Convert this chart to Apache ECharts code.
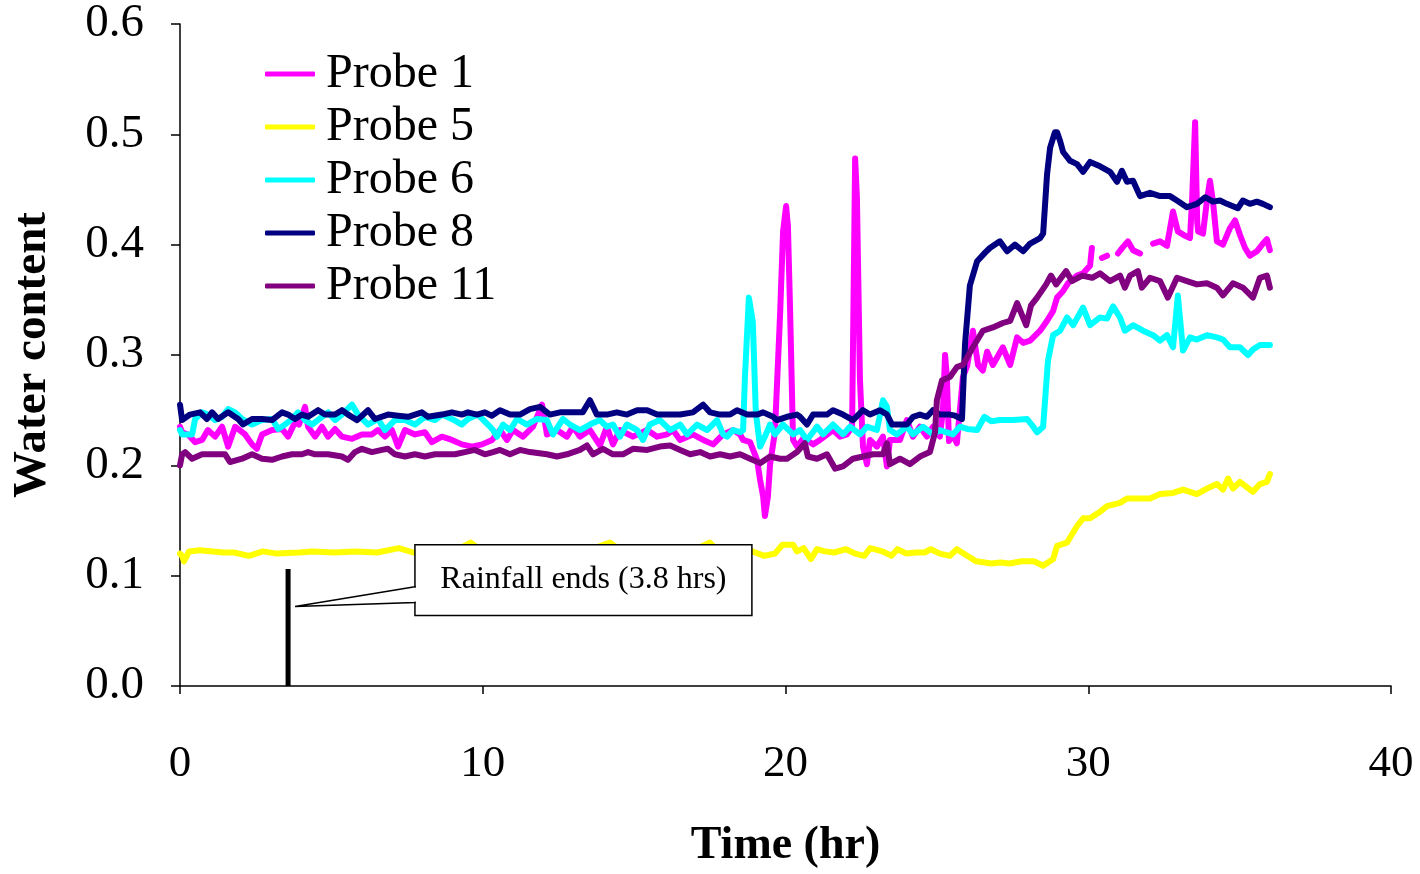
<!DOCTYPE html>
<html>
<head>
<meta charset="utf-8">
<script src="https://cdn.jsdelivr.net/npm/echarts@6/dist/echarts.min.js"></script>
<style>
html,body{margin:0;padding:0;background:#fff;overflow:hidden;width:1420px;height:874px;}
#chart{width:1420px;height:874px;}
</style>
</head>
<body>
<div id="chart"></div>
<script>
// ---------------- DATA ----------------
const xTicks = [0, 10, 20, 30, 40];
const yTicks = [0.0, 0.1, 0.2, 0.3, 0.4, 0.5, 0.6];
const seriesNames = ['Probe 1', 'Probe 5', 'Probe 6', 'Probe 8', 'Probe 11'];

const probe1T = [0,0.07,0.26,0.5,0.73,0.92,1.16,1.39,1.59,1.82,2.15,2.38,2.54,2.71,3.04,3.37,3.57,3.8,3.93,4.13,4.23,4.46,4.69,4.89,5.12,5.35,5.68,6.01,6.34,6.54,6.77,7.0,7.2,7.43,7.76,8.09,8.32,8.65,8.98,9.31,9.65,9.98,10.31,10.57,10.8,11.0,11.33,11.66,11.96,12.12,12.45,12.78,12.98,13.21,13.54,13.87,14.1,14.3,14.53,14.96,15.43,15.76,16.09,16.28,16.52,16.94,17.28,17.61,17.94,18.27,18.5,18.6,18.83,19.06,19.16,19.26,19.32,19.42,19.49,19.65,19.82,19.92,20.02,20.08,20.15,20.25,20.38,20.6,20.91,21.14,21.57,21.8,22.03,22.2,22.3,22.36,22.46,22.56,22.69,22.79,23.02,23.22,23.35,23.45,23.78,24.01,24.21,24.44,24.67,24.87,25.1,25.2,25.27,25.33,25.4,25.53,25.66,25.76,25.86,26.0,26.19,26.36,26.52,26.66,26.85,27.18,27.42,27.65,27.85,28.08,28.41,28.64,28.84,28.97,29.17,29.33,29.63,29.83,30.06,30.12,30.3,30.45,30.62,30.8,30.98,31.15,31.31,31.48,31.71,31.9,32.14,32.37,32.6,32.8,32.96,33.2,33.36,33.43,33.53,33.6,33.63,33.79,33.92,34.02,34.12,34.25,34.45,34.68,34.85,35.01,35.18,35.34,35.57,35.77,35.9,36.0];
const probe1V = [0.235,0.23,0.228,0.221,0.223,0.232,0.226,0.235,0.217,0.235,0.228,0.219,0.215,0.228,0.232,0.233,0.226,0.239,0.237,0.253,0.235,0.226,0.235,0.226,0.233,0.226,0.224,0.228,0.228,0.232,0.226,0.232,0.217,0.232,0.228,0.23,0.221,0.226,0.223,0.219,0.217,0.219,0.223,0.232,0.223,0.232,0.226,0.235,0.255,0.228,0.232,0.226,0.235,0.226,0.232,0.218,0.235,0.219,0.232,0.226,0.232,0.226,0.228,0.232,0.223,0.228,0.223,0.219,0.228,0.232,0.228,0.223,0.221,0.205,0.187,0.172,0.154,0.172,0.201,0.23,0.336,0.412,0.435,0.417,0.343,0.223,0.217,0.225,0.219,0.223,0.232,0.226,0.228,0.235,0.478,0.442,0.277,0.217,0.201,0.223,0.217,0.226,0.199,0.223,0.223,0.241,0.226,0.235,0.226,0.235,0.226,0.25,0.3,0.28,0.222,0.228,0.22,0.25,0.28,0.29,0.322,0.291,0.286,0.303,0.291,0.307,0.291,0.316,0.311,0.313,0.322,0.331,0.34,0.352,0.358,0.365,0.372,0.374,0.381,0.397,'-',0.388,0.39,'-',0.392,0.398,0.403,0.395,0.392,'-',0.401,0.403,0.399,0.43,0.412,0.408,0.406,0.44,0.511,0.42,0.412,0.41,0.44,0.458,0.439,0.403,0.4,0.415,0.422,0.409,0.397,0.39,0.394,0.401,0.405,0.395];

const probe5T = [0,0.07,0.13,0.3,0.66,1.09,1.45,1.78,2.28,2.74,3.2,3.93,4.39,5.09,5.81,6.51,7.23,7.7,8.2,8.7,9.2,9.6,10.0,10.6,11.2,11.8,12.4,13.0,13.6,14.2,14.6,15.2,15.8,16.4,16.9,17.5,17.8,18.2,18.8,19.3,19.65,19.9,20.25,20.38,20.6,20.84,21.04,21.3,21.6,22.0,22.3,22.6,22.8,23.2,23.5,23.7,24.0,24.3,24.6,24.8,25.1,25.43,25.66,26.0,26.3,26.8,27.1,27.4,27.8,28.2,28.51,28.84,28.97,29.3,29.63,29.83,30.06,30.39,30.62,31.05,31.28,32.04,32.37,32.8,33.13,33.59,33.92,34.25,34.45,34.62,34.78,35.01,35.44,35.67,35.9,36.0];
const probe5V = [0.12,0.118,0.113,0.122,0.123,0.122,0.121,0.121,0.118,0.122,0.12,0.121,0.122,0.121,0.122,0.121,0.125,0.121,0.122,0.12,0.124,0.13,0.122,0.121,0.123,0.121,0.122,0.121,0.124,0.13,0.122,0.121,0.123,0.121,0.122,0.13,0.122,0.121,0.123,0.118,0.12,0.128,0.128,0.122,0.125,0.115,0.124,0.122,0.121,0.124,0.12,0.118,0.125,0.122,0.118,0.124,0.12,0.121,0.121,0.124,0.12,0.118,0.124,0.118,0.113,0.111,0.112,0.111,0.113,0.113,0.109,0.115,0.127,0.13,0.145,0.152,0.152,0.158,0.163,0.166,0.17,0.17,0.174,0.175,0.178,0.174,0.179,0.183,0.178,0.188,0.179,0.185,0.176,0.183,0.185,0.192];

const probe6T = [0,0.07,0.4,0.5,0.73,0.92,1.16,1.39,1.59,1.82,2.05,2.38,2.71,3.04,3.24,3.47,3.7,3.9,4.13,4.36,4.69,4.89,5.12,5.35,5.68,5.88,6.21,6.54,6.77,7.1,7.43,7.76,8.09,8.42,8.65,8.98,9.31,9.51,9.84,10.17,10.34,10.47,10.67,10.9,11.13,11.46,11.79,12.12,12.32,12.65,12.88,13.21,13.54,13.87,14.1,14.3,14.53,14.76,15.1,15.29,15.52,15.85,16.19,16.52,16.75,17.08,17.41,17.74,17.94,18.07,18.27,18.5,18.6,18.66,18.79,18.92,19.02,19.16,19.32,19.49,19.65,19.92,20.25,20.48,20.71,21.04,21.24,21.57,21.9,22.13,22.46,22.69,23.02,23.22,23.35,23.45,23.68,24.01,24.21,24.54,24.87,25.1,25.3,25.53,25.76,26.0,26.33,26.57,26.8,27.08,27.52,27.98,28.18,28.31,28.51,28.67,28.84,29.07,29.3,29.5,29.83,30.06,30.39,30.62,30.82,31.05,31.21,31.48,31.81,32.14,32.37,32.6,32.8,32.96,33.13,33.36,33.59,33.92,34.25,34.45,34.68,35.01,35.28,35.44,35.67,36.0];
const probe6V = [0.232,0.228,0.228,0.242,0.248,0.246,0.241,0.244,0.251,0.248,0.242,0.237,0.241,0.242,0.233,0.237,0.242,0.248,0.241,0.237,0.244,0.248,0.241,0.246,0.255,0.246,0.237,0.242,0.232,0.241,0.241,0.237,0.244,0.241,0.246,0.242,0.237,0.242,0.246,0.237,0.232,0.226,0.237,0.232,0.242,0.237,0.242,0.241,0.228,0.242,0.237,0.232,0.237,0.241,0.235,0.237,0.226,0.237,0.232,0.223,0.237,0.241,0.232,0.237,0.228,0.237,0.232,0.241,0.228,0.226,0.232,0.23,0.232,0.28,0.352,0.33,0.248,0.217,0.226,0.237,0.228,0.237,0.228,0.232,0.223,0.235,0.228,0.237,0.228,0.235,0.228,0.235,0.232,0.259,0.253,0.232,0.228,0.235,0.228,0.235,0.228,0.232,0.23,0.228,0.235,0.233,0.232,0.244,0.24,0.241,0.241,0.242,0.235,0.23,0.235,0.295,0.318,0.322,0.334,0.327,0.343,0.327,0.334,0.333,0.344,0.334,0.322,0.327,0.322,0.318,0.313,0.318,0.307,0.354,0.304,0.316,0.314,0.318,0.316,0.314,0.307,0.307,0.3,0.305,0.309,0.309];

const probe8T = [0,0.07,0.33,0.66,0.89,1.06,1.26,1.59,1.92,2.08,2.38,2.71,3.04,3.37,3.57,3.8,4.03,4.23,4.56,4.79,5.12,5.35,5.55,5.85,6.21,6.44,6.87,7.2,7.53,7.99,8.19,8.65,8.98,9.31,9.51,9.81,10.07,10.3,10.57,10.9,11.23,11.56,11.89,12.22,12.55,13.11,13.3,13.54,13.77,14.1,14.43,14.76,15.1,15.43,15.76,16.09,16.52,16.94,17.28,17.51,17.84,18.17,18.4,18.73,19.06,19.26,19.59,19.72,20.05,20.38,20.48,20.71,20.91,21.37,21.57,21.9,22.23,22.56,22.79,23.12,23.35,23.52,23.78,24.01,24.21,24.44,24.67,24.87,25.1,25.43,25.6,25.83,25.93,26.09,26.33,26.6,26.75,27.08,27.32,27.58,27.85,28.08,28.41,28.51,28.64,28.74,28.9,28.97,29.07,29.17,29.4,29.63,29.83,30.06,30.39,30.72,30.95,31.11,31.28,31.48,31.71,32.04,32.37,32.7,32.93,33.26,33.59,33.86,34.12,34.35,34.58,34.94,35.11,35.34,35.57,35.77,36.0];
const probe8V = [0.255,0.241,0.246,0.248,0.242,0.248,0.242,0.248,0.242,0.237,0.242,0.242,0.241,0.248,0.246,0.242,0.246,0.244,0.25,0.246,0.246,0.25,0.246,0.241,0.25,0.242,0.246,0.245,0.244,0.248,0.244,0.246,0.248,0.246,0.248,0.246,0.248,0.245,0.25,0.246,0.246,0.251,0.253,0.246,0.248,0.248,0.248,0.259,0.246,0.246,0.248,0.246,0.25,0.25,0.246,0.246,0.246,0.248,0.255,0.248,0.246,0.246,0.25,0.246,0.246,0.248,0.244,0.241,0.244,0.246,0.244,0.237,0.246,0.246,0.25,0.246,0.241,0.25,0.246,0.25,0.246,0.237,0.237,0.237,0.244,0.246,0.244,0.25,0.246,0.246,0.245,0.242,0.31,0.363,0.385,0.393,0.397,0.403,0.394,0.4,0.394,0.401,0.406,0.41,0.464,0.488,0.502,0.502,0.494,0.484,0.476,0.473,0.466,0.475,0.471,0.466,0.457,0.467,0.457,0.458,0.444,0.447,0.444,0.444,0.44,0.434,0.437,0.443,0.439,0.44,0.437,0.433,0.44,0.437,0.439,0.437,0.434];

const probe11T = [0,0.07,0.17,0.4,0.73,1.06,1.49,1.65,2.05,2.38,2.71,3.04,3.37,3.7,4.03,4.23,4.46,4.89,5.35,5.55,5.78,6.01,6.34,6.67,6.87,7.1,7.43,7.76,8.09,8.42,8.75,9.08,9.41,9.74,10.07,10.34,10.57,10.9,11.23,11.56,12.12,12.45,12.78,13.21,13.44,13.64,13.97,14.3,14.63,14.96,15.43,15.85,16.19,16.52,16.85,17.18,17.51,17.84,18.17,18.5,18.83,19.16,19.49,19.82,20.05,20.38,20.64,20.74,21.04,21.37,21.64,21.9,22.23,22.56,22.89,23.22,23.35,23.45,23.78,24.11,24.44,24.77,24.94,25.0,25.17,25.43,25.66,25.86,26.19,26.52,26.85,27.18,27.42,27.65,27.95,28.11,28.31,28.61,28.77,28.94,29.27,29.46,29.8,30.13,30.39,30.72,31.05,31.21,31.38,31.64,31.77,32.04,32.37,32.63,32.93,33.26,33.59,33.92,34.25,34.45,34.78,35.11,35.44,35.67,35.9,36.0];
const probe11V = [0.2,0.21,0.212,0.206,0.21,0.21,0.21,0.203,0.206,0.21,0.206,0.205,0.208,0.21,0.21,0.212,0.21,0.21,0.208,0.205,0.212,0.215,0.212,0.214,0.215,0.21,0.208,0.21,0.208,0.21,0.21,0.21,0.212,0.214,0.21,0.212,0.214,0.21,0.214,0.212,0.21,0.208,0.21,0.214,0.218,0.21,0.215,0.21,0.21,0.215,0.214,0.217,0.218,0.214,0.21,0.212,0.208,0.21,0.208,0.21,0.206,0.202,0.208,0.206,0.206,0.212,0.22,0.208,0.206,0.21,0.197,0.199,0.206,0.208,0.21,0.21,0.22,0.201,0.206,0.201,0.208,0.212,0.23,0.259,0.277,0.28,0.289,0.291,0.307,0.322,0.325,0.329,0.331,0.347,0.327,0.345,0.352,0.364,0.372,0.364,0.376,0.367,0.372,0.37,0.374,0.367,0.372,0.361,0.372,0.376,0.361,0.37,0.367,0.352,0.37,0.367,0.364,0.365,0.361,0.354,0.365,0.361,0.352,0.37,0.372,0.361];

// annotation (rainfall end marker and callout), in data units
const rainLineT = 3.57;
const rainLineTop = 0.106;
const calloutText = 'Rainfall ends (3.8 hrs)';
const calloutBox = { x0: 7.76, x1: 18.89, yTop: 0.128, yBottom: 0.0639 };
const calloutTip = [3.8, 0.072];
const calloutBase = [0.090, 0.0756];

// ---------------- CHART ----------------
const colors = ['#FF00FF', '#FFFF00', '#00FFFF', '#000080', '#800080'];
const allT = [probe1T, probe5T, probe6T, probe8T, probe11T];
const allV = [probe1V, probe5V, probe6V, probe8V, probe11V];
const zip = (t, v) => t.map((x, i) => [x, v[i]]);
const FONT = '"Liberation Serif", "Times New Roman", serif';

const series = seriesNames.map((name, i) => ({
  name, type: 'line', data: zip(allT[i], allV[i]),
  showSymbol: false, symbol: 'none', connectNulls: false,
  lineStyle: { color: colors[i], width: 6, cap: 'round', join: 'round' },
  itemStyle: { color: colors[i] },
  z: 2 + i
}));
series.push({
  name: 'rain', type: 'line', data: [[rainLineT, 0], [rainLineT, rainLineTop]],
  showSymbol: false, symbol: 'none',
  lineStyle: { color: '#000', width: 5 }, z: 1
});

const chart = echarts.init(document.getElementById('chart'), null, { renderer: 'canvas', width: 1420, height: 874 });
chart.setOption({
  animation: false,
  backgroundColor: '#fff',
  grid: { left: 180, right: 29, top: 24, bottom: 183, containLabel: false },
  legend: {
    data: seriesNames,
    orient: 'vertical', left: 265, top: 50,
    itemWidth: 50, itemHeight: 5, itemGap: 5,
    icon: 'roundRect', padding: 0,
    textStyle: { fontFamily: FONT, fontSize: 48, color: '#000', lineHeight: 48, padding: [0, 0, 0, 6] }
  },
  xAxis: {
    type: 'value', min: xTicks[0], max: xTicks[xTicks.length - 1], interval: 10,
    name: 'Time (hr)', nameLocation: 'middle', nameGap: 137,
    nameTextStyle: { fontFamily: FONT, fontSize: 46, fontWeight: 'bold', color: '#000' },
    axisLine: { onZero: false, lineStyle: { color: '#000', width: 1.5 } },
    axisTick: { inside: false, length: 8, lineStyle: { color: '#000', width: 1.5 } },
    axisLabel: { fontFamily: FONT, fontSize: 45, color: '#000', margin: 56 },
    splitLine: { show: false }
  },
  yAxis: {
    type: 'value', min: yTicks[0], max: yTicks[yTicks.length - 1], interval: 0.1,
    name: 'Water content', nameLocation: 'middle', nameGap: 124, nameRotate: 90,
    nameTextStyle: { fontFamily: FONT, fontSize: 47, fontWeight: 'bold', color: '#000' },
    axisLine: { show: true, lineStyle: { color: '#000', width: 1.5 } },
    axisTick: { show: true, inside: false, length: 9, lineStyle: { color: '#000', width: 1.5 } },
    axisLabel: { fontFamily: FONT, fontSize: 47, color: '#000', margin: 36, formatter: v => v.toFixed(1) },
    splitLine: { show: false }
  },
  series
});

// callout graphic, positioned via the chart's own coordinate conversion
function px(p) { return chart.convertToPixel({ xAxisIndex: 0, yAxisIndex: 0 }, p); }
const tl = px([calloutBox.x0, calloutBox.yTop]);
const br = px([calloutBox.x1, calloutBox.yBottom]);
const tip = px(calloutTip);
const b1 = px([calloutBox.x0, calloutBase[0]]);
const b2 = px([calloutBox.x0, calloutBase[1]]);
chart.setOption({
  graphic: [
    { type: 'rect', z: 100, shape: { x: tl[0], y: tl[1], width: br[0] - tl[0], height: br[1] - tl[1] },
      style: { fill: '#fff', stroke: '#000', lineWidth: 1.5 } },
    { type: 'polygon', z: 101, shape: { points: [b1, tip, b2] },
      style: { fill: '#fff', stroke: '#000', lineWidth: 1.5 } },
    { type: 'line', z: 102, shape: { x1: b1[0], y1: b1[1] + 1, x2: b2[0], y2: b2[1] - 1 },
      style: { stroke: '#fff', lineWidth: 3 } },
    { type: 'text', z: 103, x: (tl[0] + br[0]) / 2, y: (tl[1] + br[1]) / 2 - 1,
      style: { text: calloutText, fontFamily: FONT, fontSize: 32, fill: '#000', align: 'center', verticalAlign: 'middle' } }
  ]
});
</script>
</body>
</html>
